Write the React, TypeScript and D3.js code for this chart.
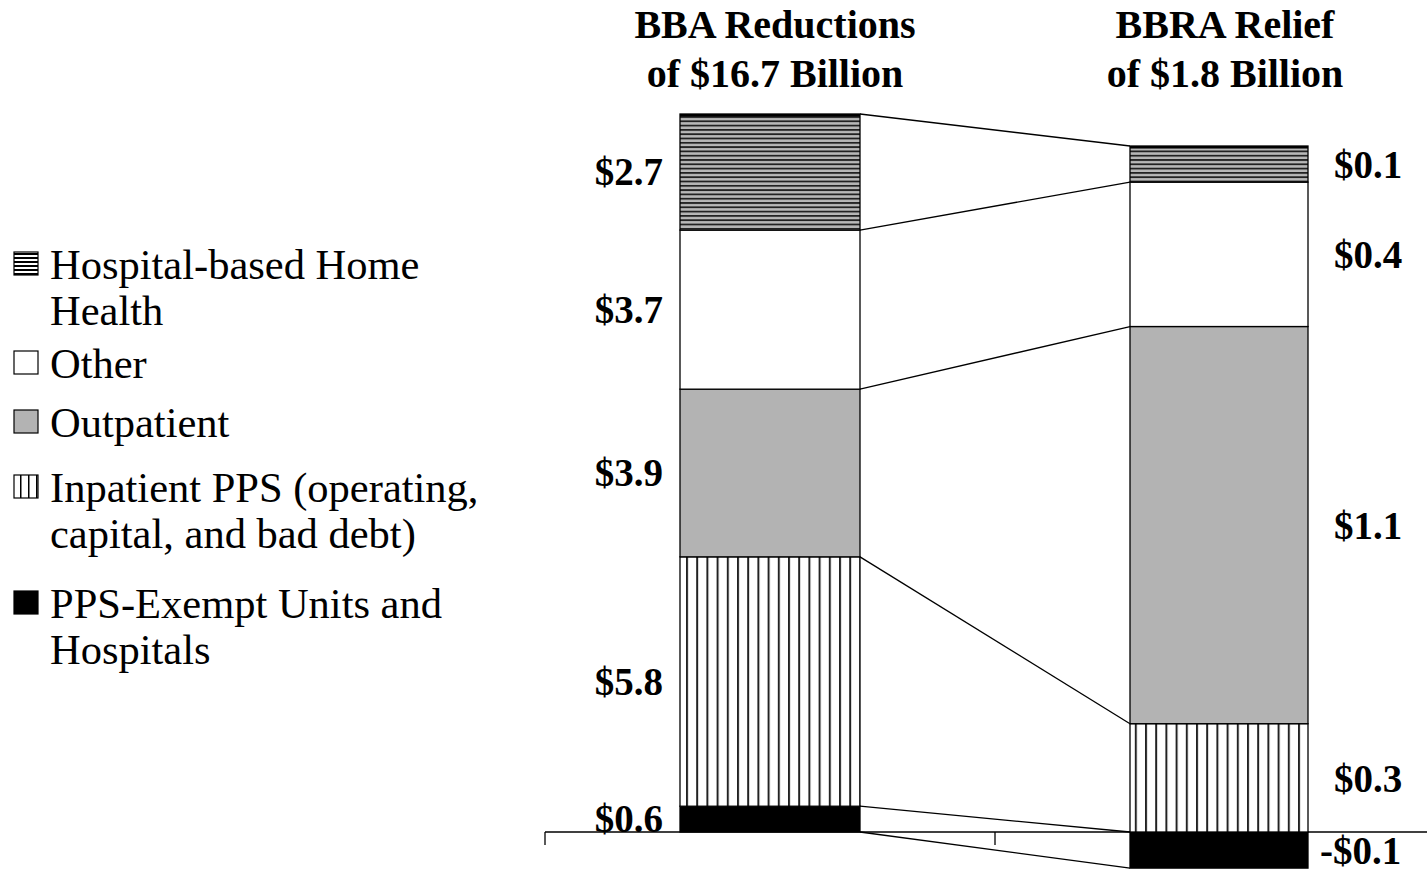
import React from 'react'
import * as d3 from 'd3'

const width = 1427
const height = 873

const bars = ['BBA', 'BBRA']
const titles = [['BBA Reductions', 'of $16.7 Billion'], ['BBRA Relief', 'of $1.8 Billion']]
const categories = ['PPS-Exempt Units and Hospitals', 'Inpatient PPS', 'Outpatient', 'Other', 'Hospital-based Home Health']
const bbaValues = [0.6, 5.8, 3.9, 3.7, 2.7]
const bbraValues = [-0.1, 0.3, 1.1, 0.4, 0.1]
const legendLines = [
  ['Hospital-based Home', 'Health'],
  ['Other'],
  ['Outpatient'],
  ['Inpatient PPS (operating,', 'capital, and bad debt)'],
  ['PPS-Exempt Units and', 'Hospitals'],
]
// legend order is top to bottom, categories bottom to top
const legendKeys = [4, 3, 2, 1, 0]
const fills = ['#000', 'url(#vstripe)', '#b3b3b3', '#fff', 'url(#hstripe)']

const font = '"Liberation Serif", "Times New Roman", serif'

function stack(values: number[]) {
  let pos = 0
  let neg = 0
  return values.map(v => {
    if (v >= 0) {
      const s = { y0: pos, y1: pos + v, v }
      pos += v
      return s
    }
    const s = { y0: neg + v, y1: neg, v }
    neg += v
    return s
  })
}

function fmt(v: number) {
  return (v < 0 ? '-$' : '$') + Math.abs(v).toFixed(1)
}

export default function App() {
  const x = d3.scaleBand().domain(bars).range([545, 1445])
  const barW = 180
  const barX = (b: string) => (x(b) as number) + (x.bandwidth() - barW) / 2

  const yLeft = d3.scaleLinear().domain([0, 16.7]).range([832, 114])
  const yRight = d3.scaleLinear().domain([0, 1.9]).range([832, 146])

  const left = stack(bbaValues)
  const right = stack(bbraValues)

  const lx = barX('BBA')
  const rx = barX('BBRA')

  // segment boundaries joined by connector lines, bottom to top
  const leftEdges = [left[0].y0, ...left.map(d => d.y1)]
  const rightEdges = [right[0].y0, ...right.map(d => d.y1)]

  const tx = (b: string) => (x(b) as number) + x.bandwidth() / 2 + 5

  return (
    <svg width={width} height={height} style={{ position: 'absolute', left: 0, top: 0, background: '#fff' }}>
      <defs>
        <pattern id="hstripe" patternUnits="userSpaceOnUse" width="8" height="4.3">
          <rect width="8" height="4.3" fill="#b8b8b8" />
          <rect y="0" width="8" height="1.8" fill="#222" />
        </pattern>
        <pattern id="vstripe" patternUnits="userSpaceOnUse" width="10.2" height="8" x={lx + 6}>
          <rect width="10.2" height="8" fill="#fff" />
          <rect x="0" width="2" height="8" fill="#222" />
        </pattern>
        <pattern id="hstripeL" patternUnits="userSpaceOnUse" width="8" height="4" y="1">
          <rect width="8" height="4" fill="#fff" />
          <rect width="8" height="2" fill="#000" />
        </pattern>
        <pattern id="vstripeL" patternUnits="userSpaceOnUse" width="8" height="8" x="20">
          <rect width="8" height="8" fill="#fff" />
          <rect width="1.5" height="8" fill="#000" />
        </pattern>
      </defs>

      {/* titles */}
      {bars.map((b, i) => (
        <text key={b} x={tx(b)} y={38} textAnchor="middle"
          fontFamily={font} fontWeight="bold" fontSize={40}>
          <tspan x={tx(b)}>{titles[i][0]}</tspan>
          <tspan x={tx(b)} dy={49}>{titles[i][1]}</tspan>
        </text>
      ))}

      {/* connector lines */}
      {leftEdges.map((v, i) => (
        <line key={'c' + i} x1={lx + barW} x2={rx} y1={yLeft(v)} y2={yRight(rightEdges[i])}
          stroke="#000" strokeWidth={1.3} />
      ))}

      {/* axis */}
      <line x1={545} x2={width} y1={yLeft(0)} y2={yLeft(0)} stroke="#000" strokeWidth={1.3} />
      {bars.map(b => (
        <line key={'t' + b} x1={x(b) as number} x2={x(b) as number} y1={yLeft(0)} y2={yLeft(0) + 13}
          stroke="#000" strokeWidth={1.3} />
      ))}

      {/* bars */}
      {left.map((d, i) => (
        <rect key={'l' + i} x={lx} width={barW} y={yLeft(d.y1)} height={yLeft(d.y0) - yLeft(d.y1)}
          fill={fills[i]} stroke="#000" strokeWidth={1.3} />
      ))}
      {right.map((d, i) => (
        <rect key={'r' + i} x={rx} width={barW - 2} y={yRight(d.y1)} height={yRight(d.y0) - yRight(d.y1)}
          fill={fills[i]} stroke="#000" strokeWidth={1.3} />
      ))}
      <rect x={lx} y={yLeft(16.7)} width={barW} height={2.5} fill="#000" />
      <rect x={rx} y={yRight(1.9)} width={barW - 2} height={2.5} fill="#000" />

      {/* value labels */}
      {left.map((d, i) => (
        <text key={'lv' + i} x={lx - 17} y={yLeft((d.y0 + d.y1) / 2) + 13} textAnchor="end"
          fontFamily={font} fontWeight="bold" fontSize={39}>{fmt(d.v)}</text>
      ))}
      {right.map((d, i) => (
        <text key={'rv' + i} x={d.v < 0 ? rx + barW + 10 : rx + barW + 24} y={yRight((d.y0 + d.y1) / 2) + 14}
          fontFamily={font} fontWeight="bold" fontSize={39}>{fmt(d.v)}</text>
      ))}

      {/* legend */}
      {legendKeys.map((k, i) => {
        const tops = [252, 351, 410, 475, 591]
        const top = tops[i]
        const mFill = k === 4 ? 'url(#hstripeL)' : k === 1 ? 'url(#vstripeL)' : fills[k]
        return (
          <g key={'lg' + k}>
            <rect x={14} y={top} width={24} height={23} fill={mFill} stroke="#000" strokeWidth={1.2} />
            <text x={50} y={top + 27} fontFamily={font} fontSize={42.5}>
              {legendLines[i].map((t, j) => (
                <tspan key={j} x={50} dy={j === 0 ? 0 : 46}>{t}</tspan>
              ))}
            </text>
          </g>
        )
      })}
    </svg>
  )
}
